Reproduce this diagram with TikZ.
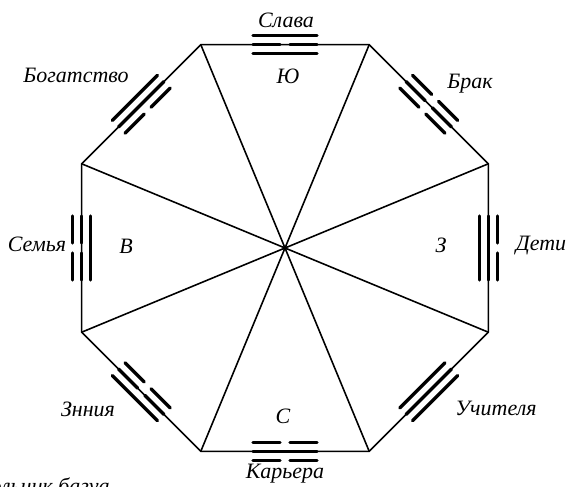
\documentclass[tikz,border=0pt]{standalone}
\usepackage{fontspec}
\setmainfont{Liberation Serif}
\usetikzlibrary{calc}
\tikzset{
  rim/.style={line width=0.9pt, line join=miter},
  yao/.style={line width=1.9pt, line cap=round},
  lbl/.style={font=\fontsize{12.5}{15}\selectfont\itshape, inner sep=0pt},
}
\newcommand{\yang}[1]{\draw[yao] (-32,#1) -- (32,#1);}
\newcommand{\yin}[1]{\draw[yao] (-32,#1) -- (-5,#1) (5,#1) -- (32,#1);}
\newcommand{\trigram}[5]{%
  \begin{scope}[shift={(#1)}, rotate=#2]
    #3{9} #4{0} #5{-9}
  \end{scope}}

\begin{document}
\begin{tikzpicture}[x=0.02cm, y=0.02cm]
  \useasboundingbox (0,0) rectangle (569,487);
  \clip (0,0) rectangle (569,487);

  % octagon corners
  \coordinate (o) at (285,239);
  \coordinate (v1) at (488.3,323.2);
  \coordinate (v2) at (369.2,442.3);
  \coordinate (v3) at (200.8,442.3);
  \coordinate (v4) at (81.7,323.2);
  \coordinate (v5) at (81.7,154.8);
  \coordinate (v6) at (200.8,35.7);
  \coordinate (v7) at (369.2,35.7);
  \coordinate (v8) at (488.3,154.8);

  \draw[rim] (v1) -- (v2) -- (v3) -- (v4) -- (v5) -- (v6) -- (v7) -- (v8) -- cycle;
  \draw[rim] (v1) -- (o) (v2) -- (o) (v3) -- (o) (v4) -- (o)
             (v5) -- (o) (v6) -- (o) (v7) -- (o) (v8) -- (o);

  % trigrams on the sides
  \trigram{$(v2)!0.5!(v3)$}{0}{\yang}{\yin}{\yang}
  \trigram{$(v1)!0.5!(v2)$}{-45}{\yin}{\yin}{\yin}
  \trigram{$(v8)!0.5!(v1)$}{-90}{\yin}{\yang}{\yang}
  \trigram{$(v7)!0.5!(v8)$}{-135}{\yang}{\yang}{\yang}
  \trigram{$(v6)!0.5!(v7)$}{-180}{\yin}{\yang}{\yin}
  \trigram{$(v5)!0.5!(v6)$}{-225}{\yang}{\yin}{\yin}
  \trigram{$(v4)!0.5!(v5)$}{90}{\yin}{\yin}{\yang}
  \trigram{$(v3)!0.5!(v4)$}{45}{\yang}{\yang}{\yin}

  % labels
  \node[lbl] (slava) at (286,467) {Слава};
  \node[lbl] (yu) at (288,411) {Ю};
  \node[lbl] (bogat) at (76,412) {Богатство};
  \node[lbl] (brak) at (470,403) {Брак};
  \node[lbl] (semya) at (37,243) {Семья};
  \node[lbl] (vost) at (126,241) {В};
  \node[lbl] (zap) at (441,242) {З};
  \node[lbl] (deti) at (541,241) {Дети};
  \node[lbl] (znan) at (88,78) {Знния};
  \node[lbl] (uchit) at (496,79) {Учителя};
  \node[lbl] (sev) at (283,71) {С};
  \node[lbl] (karera) at (285,13) {Карьера};
  \node[lbl, anchor=base east] (capt) at (110,-7) {Восьмиугольник багуа};
\end{tikzpicture}
\end{document}
